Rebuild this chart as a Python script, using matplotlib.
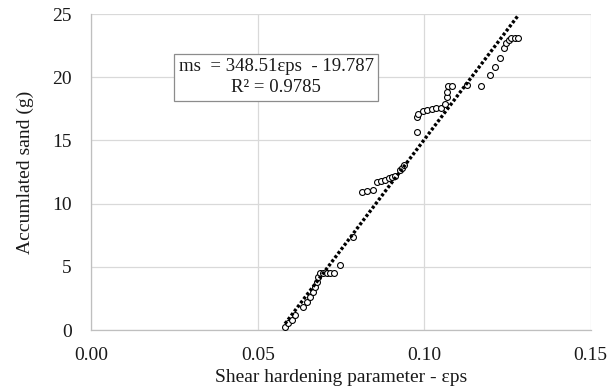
import numpy as np
import matplotlib.pyplot as plt

plt.rcParams['font.family'] = ['Liberation Serif', 'DejaVu Serif']

# measured shear hardening parameter vs accumulated sand
eps = [0.0582, 0.0592, 0.0602, 0.0612, 0.0637, 0.0647, 0.0657, 0.0667, 0.0672,
       0.0677, 0.0682, 0.0687, 0.0697, 0.0707, 0.0717, 0.0730, 0.0747, 0.0787,
       0.0814, 0.0829, 0.0845, 0.0857, 0.0869, 0.0882, 0.0895, 0.0902, 0.0912,
       0.0927, 0.0932, 0.0939, 0.0977, 0.0977, 0.0982, 0.0997, 0.1009, 0.1022,
       0.1035, 0.1049, 0.1062, 0.1067, 0.1069, 0.1072, 0.1082, 0.1127, 0.1169,
       0.1197, 0.1214, 0.1229, 0.1240, 0.1247, 0.1254, 0.1262, 0.1272, 0.1282]
sand = [0.26, 0.53, 0.79, 1.19, 1.85, 2.24, 2.64, 3.03, 3.43,
        3.82, 4.22, 4.50, 4.50, 4.50, 4.50, 4.50, 5.15, 7.38,
        10.95, 11.00, 11.10, 11.70, 11.80, 11.90, 12.00, 12.13, 12.20,
        12.66, 12.84, 13.05, 15.70, 16.85, 17.10, 17.33, 17.41, 17.46,
        17.54, 17.59, 17.86, 18.46, 18.85, 19.30, 19.35, 19.38, 19.35,
        20.17, 20.83, 21.50, 22.34, 22.68, 22.94, 23.08, 23.13, 23.13]

# linear trendline coefficients
slope = 348.51
intercept = -19.787
r2 = 0.9785

fig = plt.figure(figsize=(6.16, 3.92), dpi=100)
ax = fig.add_axes([0.148, 0.158, 0.811, 0.806])

ax.scatter(eps, sand, s=18, facecolors='white', edgecolors='black',
           linewidths=0.8, zorder=3)

# dotted trendline over the data range
xf = np.array([min(eps), max(eps)])
ax.plot(xf, slope * xf + intercept, color='black', lw=2.4,
        linestyle=(0, (0.9, 0.65)), dash_capstyle='butt', zorder=4)

ax.set_xlim(0, 0.15)
ax.set_ylim(0, 25)
ax.set_xticks([0.00, 0.05, 0.10, 0.15])
ax.set_xticklabels(['0.00', '0.05', '0.10', '0.15'])
ax.set_yticks([0, 5, 10, 15, 20, 25])
ax.grid(True, color='#d9d9d9', lw=0.9)
ax.set_axisbelow(True)
for side in ['top', 'right']:
    ax.spines[side].set_visible(False)
for side in ['left', 'bottom']:
    ax.spines[side].set_color('#bfbfbf')
    ax.spines[side].set_linewidth(0.9)
ax.tick_params(length=0, labelsize=14, colors='#1a1a1a')
ax.tick_params(axis='y', pad=14)
ax.tick_params(axis='x', pad=12)

ax.set_xlabel('Shear hardening parameter - εps', fontsize=14,
              color='#1a1a1a', labelpad=4)
ax.set_ylabel('Accumlated sand (g)', fontsize=14, color='#1a1a1a', labelpad=13)

ax.text(0.0555, 20.0, 'ms  = %.2fεps  - %.3f\nR² = %.4f' % (slope, -intercept, r2),
        fontsize=13.5, ha='center', va='center', linespacing=1.3,
        color='#1a1a1a', zorder=5,
        bbox=dict(boxstyle='square,pad=0.25', facecolor='white',
                  edgecolor='#8c8c8c', lw=0.9))

fig.savefig('out.png', dpi=100)
